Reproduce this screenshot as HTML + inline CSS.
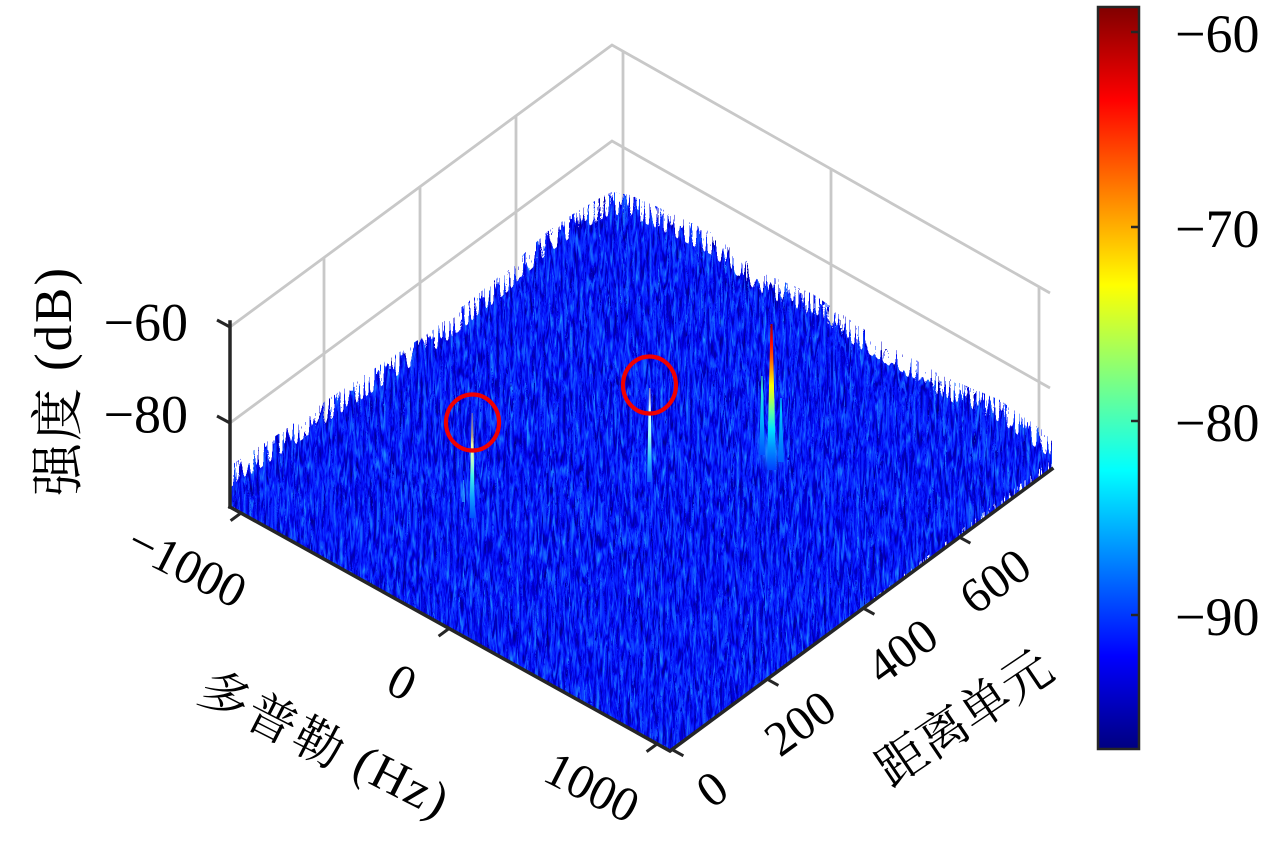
<!DOCTYPE html>
<html>
<head>
<meta charset="utf-8">
<style>
html,body{margin:0;padding:0;background:#fff;width:1280px;height:846px;overflow:hidden}
svg{display:block}
</style>
</head>
<body>
<svg width="1280" height="846" viewBox="0 0 1280 846" xmlns="http://www.w3.org/2000/svg">
<defs>
  <linearGradient id="jet" x1="0" y1="0" x2="0" y2="1">
    <stop offset="0" stop-color="#800000"/>
    <stop offset="0.125" stop-color="#ff0000"/>
    <stop offset="0.375" stop-color="#ffff00"/>
    <stop offset="0.625" stop-color="#00ffff"/>
    <stop offset="0.875" stop-color="#0000ff"/>
    <stop offset="1" stop-color="#000080"/>
  </linearGradient>
  <filter id="tex" x="0" y="0" width="1" height="1" color-interpolation-filters="sRGB">
    <feTurbulence type="fractalNoise" baseFrequency="0.3 0.06" numOctaves="3" seed="11" result="n"/>
    <feColorMatrix in="n" type="matrix" values="0.25 0 0 0 -0.1  1.2 0 0 0 -0.5  1.4 0 0 0 0.3  0 0 0 0 1" result="c"/>
    <feComposite in="c" in2="SourceAlpha" operator="in"/>
  </filter>
  <filter id="jag" x="-0.05" y="-0.15" width="1.1" height="1.3" color-interpolation-filters="sRGB">
    <feTurbulence type="turbulence" baseFrequency="0.2 0.01" numOctaves="1" seed="4" result="t"/>
    <feColorMatrix in="t" type="matrix" values="0 0 0 0 0.5  -2.5 0 0 0 1  0 0 0 0 0  0 0 0 0 1" result="m"/>
    <feComponentTransfer in="m" result="d">
      <feFuncG type="gamma" amplitude="0.5" exponent="2" offset="0.5"/>
    </feComponentTransfer>
    <feDisplacementMap in="SourceGraphic" in2="d" scale="44" xChannelSelector="R" yChannelSelector="G"/>
  </filter>
  <clipPath id="clipSurf">
    <polygon points="230,120 230,507 670,751 1052,469 1052,200 612,100"/>
  </clipPath>
  <linearGradient id="pk3" gradientUnits="userSpaceOnUse" x1="0" y1="324" x2="0" y2="470">
    <stop offset="0" stop-color="#a00000"/>
    <stop offset="0.12" stop-color="#ff0000"/>
    <stop offset="0.24" stop-color="#ff6000"/>
    <stop offset="0.33" stop-color="#ffb000"/>
    <stop offset="0.42" stop-color="#ffff00"/>
    <stop offset="0.5" stop-color="#c0ff40"/>
    <stop offset="0.6" stop-color="#60ffa0"/>
    <stop offset="0.72" stop-color="#00e0ff"/>
    <stop offset="0.85" stop-color="#0090ff"/>
    <stop offset="1" stop-color="#0040ff"/>
  </linearGradient>
  <linearGradient id="pk3b" gradientUnits="userSpaceOnUse" x1="0" y1="376" x2="0" y2="455">
    <stop offset="0" stop-color="#40ffc0"/>
    <stop offset="0.5" stop-color="#00c0ff"/>
    <stop offset="1" stop-color="#0050ff"/>
  </linearGradient>
  <linearGradient id="pk3c" gradientUnits="userSpaceOnUse" x1="0" y1="398" x2="0" y2="462">
    <stop offset="0" stop-color="#00e0ff"/>
    <stop offset="1" stop-color="#0060ff"/>
  </linearGradient>
  <radialGradient id="blob">
    <stop offset="0" stop-color="#20d0ff" stop-opacity="0.85"/>
    <stop offset="1" stop-color="#1060ff" stop-opacity="0"/>
  </radialGradient>
  <linearGradient id="pk2" gradientUnits="userSpaceOnUse" x1="0" y1="388" x2="0" y2="482">
    <stop offset="0" stop-color="#b0a0c0" stop-opacity="0.7"/>
    <stop offset="0.2" stop-color="#e0ffff"/>
    <stop offset="0.5" stop-color="#a0ffff"/>
    <stop offset="0.75" stop-color="#30c0ff"/>
    <stop offset="1" stop-color="#1050ff"/>
  </linearGradient>
  <linearGradient id="pk1" gradientUnits="userSpaceOnUse" x1="0" y1="413" x2="0" y2="518">
    <stop offset="0" stop-color="#8070a0" stop-opacity="0.7"/>
    <stop offset="0.22" stop-color="#b0a080"/>
    <stop offset="0.3" stop-color="#f0ffa0"/>
    <stop offset="0.45" stop-color="#c0ffc0"/>
    <stop offset="0.6" stop-color="#40f0f0"/>
    <stop offset="0.8" stop-color="#10a0ff"/>
    <stop offset="1" stop-color="#0050ff"/>
  </linearGradient>
</defs>

<rect x="0" y="0" width="1280" height="846" fill="#fff"/>

<!-- grid -->
<g stroke="#c8c8c8" stroke-width="2.8" fill="none">
  <polyline points="230,327 612,45 1050,293"/>
  <polyline points="230,423 612,141 1050,388"/>
  <line x1="324" y1="258" x2="324" y2="437"/>
  <line x1="420" y1="187" x2="420" y2="366"/>
  <line x1="516" y1="116" x2="516" y2="295"/>
  <line x1="623" y1="51" x2="623" y2="230"/>
  <line x1="831" y1="169" x2="831" y2="345"/>
  <line x1="1039" y1="287" x2="1039" y2="462"/>
</g>

<!-- surface -->
<g clip-path="url(#clipSurf)">
  <g filter="url(#jag)">
    <polygon filter="url(#tex)" fill="#0a20e8" points="222,488 230,488 283,453 333,418 383,385 433,352 483,312 507,292 547,254 573,236 600,220 612,214 630,217 660,230 710,254 760,294 813,316 860,349 900,372 940,397 1000,422 1045,454 1056,459 1064,472 670,778 222,522"/>
  </g>
</g>

<!-- peaks -->
<ellipse cx="771" cy="452" rx="16" ry="26" fill="url(#blob)"/>
<polygon points="761.5,376 762.5,376 765,455 759,455" fill="url(#pk3b)"/>
<polygon points="780.5,398 781.5,398 784,462 778,462" fill="url(#pk3c)"/>
<polygon points="770.5,324 772.5,324 776,470 767,470" fill="url(#pk3)"/>
<polygon points="649,388 650.5,388 652,482 647,482" fill="url(#pk2)"/>
<polygon points="471.5,413 473,413 475,518 469.5,518" fill="url(#pk1)"/>
<polygon points="463,480 464,480 465,502 462,502" fill="#30b0ff" opacity="0.7"/>

<!-- red circles -->
<ellipse cx="472.5" cy="422.5" rx="26.5" ry="28" fill="none" stroke="#f00000" stroke-width="4.2"/>
<ellipse cx="649.5" cy="385" rx="26.5" ry="28.5" fill="none" stroke="#f00000" stroke-width="4.2"/>

<!-- axes -->
<g stroke="#262626" stroke-width="3.5" fill="none" stroke-linecap="square">
  <line x1="230" y1="322" x2="230" y2="507"/>
  <polyline points="230,507 670,751 1052,469"/>
</g>
<g stroke="#262626" stroke-width="3" fill="none">
  <line x1="230" y1="327" x2="217" y2="320"/>
  <line x1="230" y1="423" x2="217" y2="416"/>
  <line x1="241" y1="513" x2="230.6" y2="520.7"/>
  <line x1="449" y1="628.5" x2="438.6" y2="636.2"/>
  <line x1="657" y1="744" x2="646.6" y2="751.7"/>
  <line x1="672" y1="749.5" x2="683.4" y2="755.8"/>
  <line x1="767" y1="679.1" x2="778.4" y2="685.4"/>
  <line x1="863" y1="608" x2="874.4" y2="614.3"/>
  <line x1="959" y1="536.9" x2="970.4" y2="543.2"/>
</g>

<g font-family="'Liberation Serif', serif" fill="#000">
<text x="188" y="322.5" font-size="54" text-anchor="end" dominant-baseline="central">−60</text>
<text x="188" y="414.5" font-size="54" text-anchor="end" dominant-baseline="central">−80</text>

<text transform="translate(54,382) rotate(-90)" x="0" y="0" font-size="53" text-anchor="middle" dominant-baseline="central" textLength="228" lengthAdjust="spacing"><tspan font-family="'Noto Serif CJK SC', 'Noto Sans CJK SC', serif">强度</tspan> (dB)</text>

<text transform="translate(187,566) rotate(27)" font-size="49" text-anchor="middle" dominant-baseline="central">−1000</text>
<text transform="translate(402,682) rotate(27)" font-size="49" text-anchor="middle" dominant-baseline="central">0</text>
<text transform="translate(592,787) rotate(27)" font-size="49" text-anchor="middle" dominant-baseline="central">1000</text>
<text transform="translate(325,742) rotate(27)" font-size="50" text-anchor="middle" dominant-baseline="central" textLength="270" lengthAdjust="spacing"><tspan font-family="'Noto Serif CJK SC', 'Noto Sans CJK SC', serif">多普勒</tspan> (Hz)</text>

<text transform="translate(712,789) rotate(-36)" font-size="49" text-anchor="middle" dominant-baseline="central">0</text>
<text transform="translate(800,723) rotate(-36)" font-size="49" text-anchor="middle" dominant-baseline="central">200</text>
<text transform="translate(902,651) rotate(-36)" font-size="49" text-anchor="middle" dominant-baseline="central">400</text>
<text transform="translate(995,581) rotate(-36)" font-size="49" text-anchor="middle" dominant-baseline="central">600</text>
<text transform="translate(962,715) rotate(-34)" font-size="50" text-anchor="middle" dominant-baseline="central" font-family="'Noto Serif CJK SC', 'Noto Sans CJK SC', serif">距离单元</text>

<text x="1175" y="34" font-size="54" dominant-baseline="central">−60</text>
<text x="1175" y="229" font-size="54" dominant-baseline="central">−70</text>
<text x="1175" y="423" font-size="54" dominant-baseline="central">−80</text>
<text x="1175" y="617" font-size="54" dominant-baseline="central">−90</text>
</g>

<!-- colorbar -->
<rect x="1098" y="7" width="41" height="742" fill="url(#jet)" stroke="#262626" stroke-width="2.5"/>
<g stroke="#262626" stroke-width="2.5">
  <line x1="1139" y1="32" x2="1131" y2="32"/>
  <line x1="1139" y1="227" x2="1131" y2="227"/>
  <line x1="1139" y1="421" x2="1131" y2="421"/>
  <line x1="1139" y1="615" x2="1131" y2="615"/>
</g>
</svg>
</body>
</html>
